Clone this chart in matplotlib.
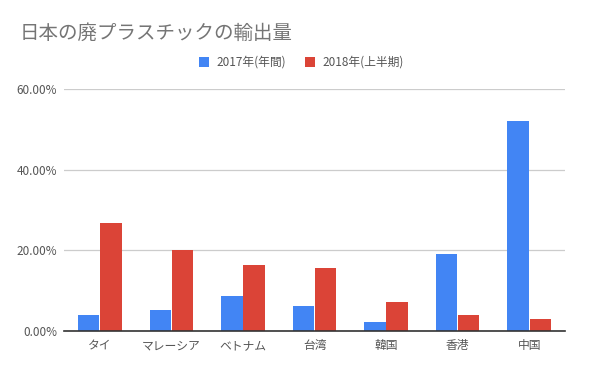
import matplotlib.pyplot as plt
import numpy as np
from matplotlib.ticker import FuncFormatter

plt.rcParams['font.family'] = ['Noto Sans CJK JP', 'DejaVu Sans']

countries = ['タイ', 'マレーシア', 'ベトナム', '台湾', '韓国', '香港', '中国']
y2017 = [3.9, 5.1, 8.6, 6.1, 2.2, 19.1, 52.2]
y2018 = [26.7, 20.1, 16.3, 15.6, 7.1, 3.9, 2.9]

x = np.arange(len(countries))
w = 0.3

fig = plt.figure(figsize=(6, 3.71), dpi=100)
ax = fig.add_axes([0.1067, 0.1086, 0.835, 0.6507])

ax.bar(x - w / 2 - 0.005, np.array(y2017) / 100, width=w, color='#4285f4', label='2017年(年間)', zorder=3)
ax.bar(x + w / 2 + 0.005, np.array(y2018) / 100, width=w, color='#db4437', label='2018年(上半期)', zorder=3)

ax.set_xlim(-0.5, len(countries) - 0.5)
ax.set_ylim(0, 0.6)
ax.set_yticks([0, 0.2, 0.4, 0.6])
ax.yaxis.set_major_formatter(FuncFormatter(lambda v, p: '%.2f%%' % (v * 100)))
ax.set_xticks(x)
ax.set_xticklabels(countries)
ax.tick_params(axis='both', length=0, labelsize=8.5, colors='#555555')
ax.tick_params(axis='x', pad=6)
ax.tick_params(axis='y', pad=5)
ax.grid(axis='y', color='#cccccc', linewidth=0.9, zorder=0)
for s in ['top', 'right', 'left']:
    ax.spines[s].set_visible(False)
ax.spines['bottom'].set_color('#333333')
ax.spines['bottom'].set_linewidth(1.2)
ax.spines['bottom'].set_zorder(4)

fig.text(0.033, 0.91, '日本の廃プラスチックの輸出量', fontsize=14, color='#757575', va='center')
fig.legend(loc='center', bbox_to_anchor=(0.502, 0.832), ncol=2, frameon=False,
           fontsize=8.5, handlelength=0.9, handleheight=0.9, columnspacing=1.6,
           handletextpad=0.6, labelcolor='#555555')

fig.savefig('out.png', dpi=100)
